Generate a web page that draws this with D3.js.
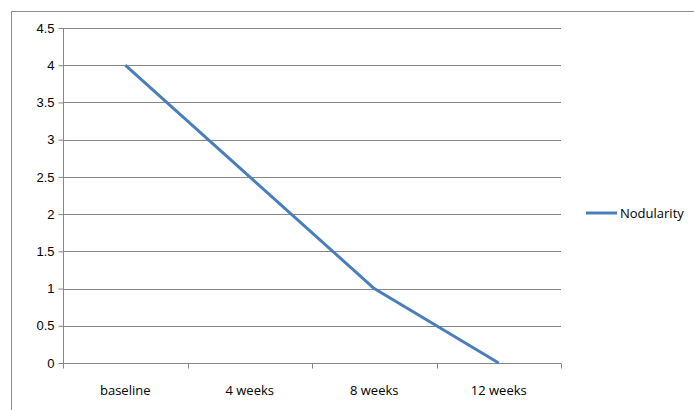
<!DOCTYPE html>
<html>
<head>
<meta charset="utf-8">
<script src="https://cdn.jsdelivr.net/npm/d3@7"></script>
<style>
  body { margin: 0; background: #fff; }
  svg { display: block; }
</style>
</head>
<body>
<div id="chart"></div>
<script>
// data
var categories = ["baseline", "4 weeks", "8 weeks", "12 weeks"];
var nodularity = [4, 2.5, 1, 0];
var yTicks = [0, 0.5, 1, 1.5, 2, 2.5, 3, 3.5, 4, 4.5];
var seriesName = "Nodularity";

var W = 694, H = 410;
var margin = {top: 28, right: 133, bottom: 47, left: 63},
    width = W - margin.left - margin.right,
    height = H - margin.top - margin.bottom;

var svg = d3.select("#chart")
    .append("svg")
    .attr("width", W)
    .attr("height", H)
    .style("font-family", "'Open Sans', 'DejaVu Sans', sans-serif");

// outer chart border (cropped on the right and bottom)
svg.append("path")
    .attr("d", "M11.5," + H + "V11.5H" + (W + 2))
    .attr("fill", "none")
    .attr("stroke", "#8c8c8c")
    .attr("stroke-width", 1);

var g = svg.append("g")
    .attr("transform", "translate(" + margin.left + "," + margin.top + ")");

var x = d3.scaleBand()
    .domain(categories)
    .range([0, width]);

var y = d3.scaleLinear()
    .domain([0, 4.5])
    .range([height, 0]);

// gridlines
g.selectAll(".grid")
    .data(yTicks.filter(function(d) { return d > 0; }))
    .enter()
    .append("line")
    .attr("x1", 0)
    .attr("x2", width)
    .attr("y1", function(d) { return Math.round(y(d)) + 0.5; })
    .attr("y2", function(d) { return Math.round(y(d)) + 0.5; })
    .attr("stroke", "#868686");

// y axis
var yAxis = g.append("g")
    .attr("transform", "translate(0.5,0)")
    .call(d3.axisLeft(y).tickValues(yTicks).tickSize(5).tickPadding(4).tickFormat(function(d) { return d; }));
yAxis.selectAll("path, line").attr("stroke", "#868686");
yAxis.select(".domain").attr("d", "M0," + height + "V0");
yAxis.selectAll("text")
    .style("font-size", "13px")
    .attr("fill", "#000");

// x axis, ticks on category boundaries
var xAxis = g.append("g")
    .attr("transform", "translate(0," + (Math.round(height) + 0.5) + ")");
xAxis.append("line")
    .attr("x1", 0).attr("x2", width)
    .attr("stroke", "#868686");
xAxis.selectAll(".tk")
    .data(categories.concat([null]))
    .enter()
    .append("line")
    .attr("x1", function(d, i) { return Math.round(i * x.bandwidth()) + 0.5; })
    .attr("x2", function(d, i) { return Math.round(i * x.bandwidth()) + 0.5; })
    .attr("y1", 0).attr("y2", 5)
    .attr("stroke", "#868686");
xAxis.selectAll(".lbl")
    .data(categories)
    .enter()
    .append("text")
    .attr("x", function(d) { return x(d) + x.bandwidth() / 2; })
    .attr("y", 31)
    .attr("text-anchor", "middle")
    .style("font-size", "13px")
    .attr("fill", "#000")
    .text(function(d) { return d; });

// the line
var line = d3.line()
    .x(function(d, i) { return x(categories[i]) + x.bandwidth() / 2; })
    .y(function(d) { return y(d); });

g.append("path")
    .datum(nodularity)
    .attr("d", line)
    .attr("fill", "none")
    .attr("stroke", "#4a7ebb")
    .attr("stroke-width", 3)
    .attr("stroke-linejoin", "round");

// legend
var legend = svg.append("g")
    .attr("transform", "translate(586,213)");
legend.append("line")
    .attr("x1", 0).attr("x2", 31)
    .attr("stroke", "#4a7ebb")
    .attr("stroke-width", 3);
legend.append("text")
    .attr("x", 34)
    .attr("y", 4.5)
    .style("font-size", "13px")
    .attr("fill", "#000")
    .text(seriesName);
</script>
</body>
</html>
